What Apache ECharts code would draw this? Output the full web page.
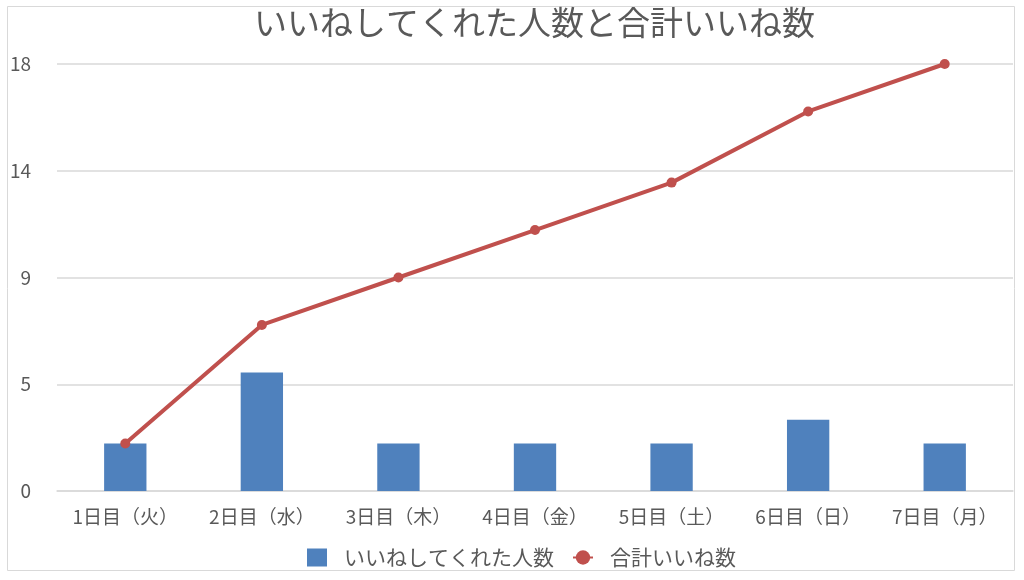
<!DOCTYPE html>
<html>
<head>
<meta charset="utf-8">
<script src="https://cdn.jsdelivr.net/npm/echarts@6/dist/echarts.min.js"></script>
<style>
  html, body { margin: 0; padding: 0; background: #fff; }
  #main { width: 1024px; height: 580px; }
</style>
</head>
<body>
<div id="main"></div>
<script>
// 日別のいいね数
var days = ['1日目（火）', '2日目（水）', '3日目（木）', '4日目（金）', '5日目（土）', '6日目（日）', '7日目（月）'];
var people = [2, 5, 2, 2, 2, 3, 2];
var total = [2, 7, 9, 11, 13, 16, 18];

var font = '"Noto Sans CJK JP", "Noto Sans", sans-serif';
var myChart = echarts.init(document.getElementById('main'));

var option = {
  backgroundColor: '#fff',
  textStyle: { fontFamily: font },
  title: {
    text: 'いいねしてくれた人数と合計いいね数',
    left: 249,
    top: 1,
    textStyle: { color: '#595959', fontSize: 33, fontWeight: 'normal', fontFamily: font }
  },
  // 外枠
  graphic: [{
    type: 'rect',
    shape: { x: 7.5, y: 6.5, width: 1007, height: 564 },
    style: { fill: 'none', stroke: '#d9d9d9', lineWidth: 1 },
    silent: true
  }],
  legend: {
    bottom: 7,
    left: 302,
    itemWidth: 20,
    itemHeight: 18,
    itemGap: 18,
    textStyle: { color: '#595959', fontSize: 21, fontFamily: font, padding: [0, 0, 0, 12] },
    data: [
      { name: 'いいねしてくれた人数', icon: 'rect' },
      { name: '合計いいね数' }
    ]
  },
  grid: { left: 57, right: 11, top: 64, bottom: 89, containLabel: false },
  xAxis: {
    type: 'category',
    data: days,
    axisLine: { lineStyle: { color: '#d9d9d9', width: 1.5 } },
    axisTick: { show: false },
    axisLabel: { interval: 0, color: '#595959', fontSize: 19, margin: 16, fontFamily: font }
  },
  yAxis: {
    type: 'value',
    min: 0,
    max: 18,
    interval: 4.5,
    axisLine: { show: false },
    axisTick: { show: false },
    axisLabel: {
      color: '#595959', fontSize: 19, margin: 26, fontFamily: font,
      formatter: function (v) { return Math.round(v); }
    },
    splitLine: { lineStyle: { color: '#d9d9d9', width: 1.5 } }
  },
  series: [
    {
      name: 'いいねしてくれた人数',
      type: 'bar',
      data: people,
      barWidth: '31%',
      itemStyle: { color: '#4f81bd' }
    },
    {
      name: '合計いいね数',
      type: 'line',
      data: total,
      symbol: 'circle',
      symbolSize: 10,
      lineStyle: { color: '#c0504d', width: 4 },
      itemStyle: { color: '#c0504d' }
    }
  ]
};

myChart.setOption(option);
</script>
</body>
</html>
